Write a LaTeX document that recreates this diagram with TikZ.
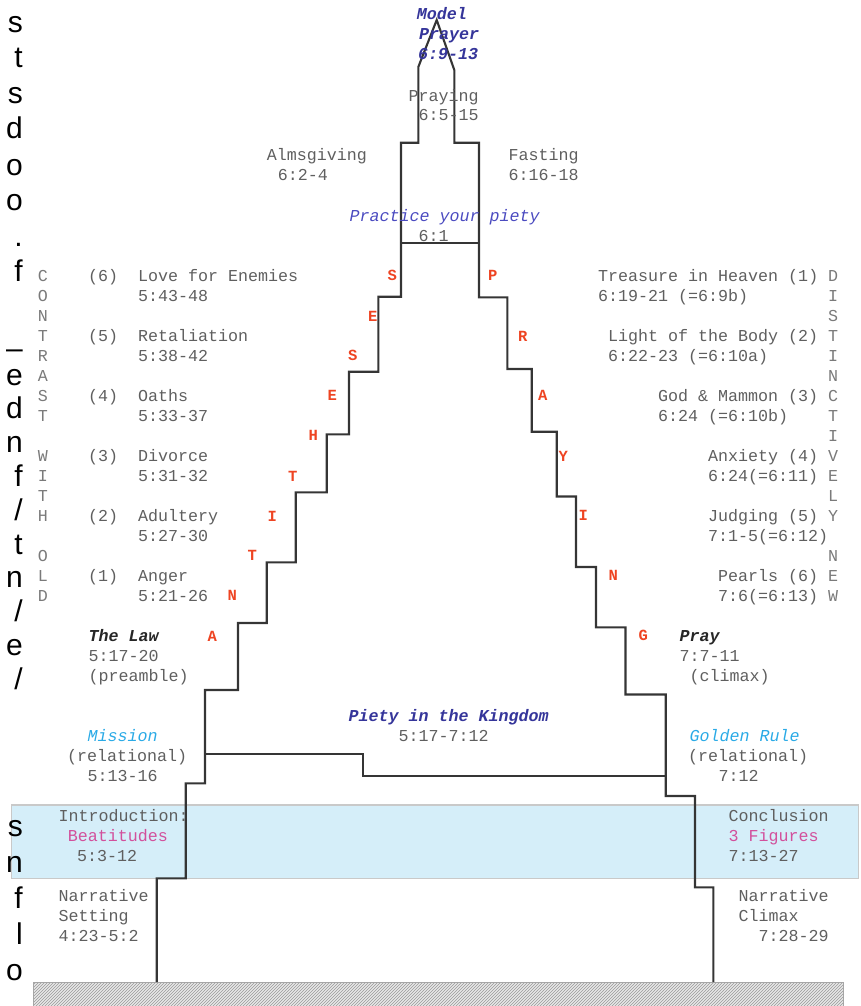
\documentclass[tikz,border=0pt]{standalone}
\usepackage{fontspec}
\setmainfont{Liberation Sans}
\setmonofont{Liberation Mono}
\usetikzlibrary{patterns}
\definecolor{txtgray}{HTML}{5F5F5F}
\definecolor{colgray}{HTML}{7A7A7A}
\definecolor{redc}{HTML}{EE4422}
\definecolor{dblue}{HTML}{35359A}
\definecolor{mblue}{HTML}{4B4BC0}
\definecolor{lblue}{HTML}{2AAAE6}
\definecolor{pinkc}{HTML}{D2509C}
\definecolor{bandfill}{HTML}{D5EEF9}
\definecolor{bandline}{HTML}{C9C9C9}
\definecolor{outl}{HTML}{353535}
\newcommand\tmono{\ttfamily\fontsize{16.67}{20}\selectfont}
\tikzset{
  txt/.style={font=\tmono, text=txtgray, inner sep=0pt, anchor=base west},
  bi/.style={txt, font=\tmono\bfseries\itshape},
  it/.style={txt, font=\tmono\itshape},
  colletter/.style={font=\tmono, text=colgray, inner sep=0pt, anchor=center},
  redletter/.style={font=\ttfamily\fontsize{15.5}{18}\selectfont\bfseries, text=redc, inner sep=0pt, anchor=center},
  frag/.style={font=\fontsize{30}{36}\selectfont, text=black, inner sep=0pt, anchor=base east},
  outline/.style={draw=outl, line width=2.1pt, line join=miter},
}
\begin{document}
\begin{tikzpicture}[x=1pt,y=-1pt]
\useasboundingbox (0,0) rectangle (861,1006);
% band
\fill[bandfill, draw=bandline, line width=1.5pt] (11.7,805) rectangle (858.3,878.3);
% hatched base
\fill[gray!18] (33.3,982) rectangle (843.3,1012);
\fill[pattern=north east lines, pattern color=gray!80] (33.3,982) rectangle (843.3,1012);
\draw[gray!70, line width=1pt] (33.3,1012) -- (33.3,982) -- (843.3,982) -- (843.3,1012);
% outline
\draw[outline] (156.7,982) -- (156.7,878.3) -- (185.7,878.3) -- (185.7,783.3) -- (205,783.3) -- (205,690)
 -- (238,690) -- (238,623) -- (266.7,623) -- (266.7,562.3) -- (295.7,562.3) -- (295.7,492.3)
 -- (326.7,492.3) -- (326.7,434.3) -- (349,434.3) -- (349,371.7) -- (378.3,371.7) -- (378.3,296.7)
 -- (401,296.7) -- (401,142.7) -- (418.3,142.7) -- (418.3,67) -- (436.7,20) -- (454.3,70)
 -- (454.3,142.7) -- (479,142.7) -- (479,297.3) -- (507.3,297.3) -- (507.3,369) -- (531.7,369)
 -- (531.7,431.7) -- (556.7,431.7) -- (556.7,496.5) -- (576,496.5) -- (576,567) -- (596,567)
 -- (596,627.3) -- (625.5,627.3) -- (625.5,694.5) -- (665.7,694.5) -- (665.7,796) -- (695,796)
 -- (695,887.3) -- (713.3,887.3) -- (713.3,982);
\draw[outline] (401,243.3) -- (479,243.3);
\draw[outline] (205,754) -- (363.3,754) -- (363.3,776) -- (665.7,776);
% top texts
\node[bi, text=dblue] (mp1) at (416.7,20) {Model};
\node[bi, text=dblue] (mp2) at (419,40) {Prayer};
\node[bi, text=dblue] (mp3) at (418,60) {6:9-13};
\node[txt] (pray1) at (408.3,101.7) {Praying};
\node[txt] (pray2) at (418.3,121) {6:5-15};
\node[txt] (alms1) at (266.7,160) {Almsgiving};
\node[txt] (alms2) at (277.7,180.7) {6:2-4};
\node[txt] (fast1) at (508.3,160.7) {Fasting};
\node[txt] (fast2) at (508.3,180.7) {6:16-18};
\node[it, text=mblue] (piety1) at (349.3,221.7) {Practice your piety};
\node[txt] (piety2) at (418.3,241) {6:1};
% column letters
\foreach \r/\l in {0/C,1/O,2/N,3/T,4/R,5/A,6/S,7/T,9/W,10/I,11/T,12/H,14/O,15/L,16/D}
  \node[colletter] (lc\r) at (43,{276+20*\r}) {\l};
\foreach \r/\l in {0/D,1/I,2/S,3/T,4/I,5/N,6/C,7/T,8/I,9/V,10/E,11/L,12/Y,14/N,15/E,16/W}
  \node[colletter] (rc\r) at (833,{276+20*\r}) {\l};
% left entries
\node[txt] (n6) at (88,281) {(6)};
\node[txt] (e6) at (138,281) {Love for Enemies};
\node[txt] (v6) at (138,301) {5:43-48};
\node[txt] (n5) at (88,341) {(5)};
\node[txt] (e5) at (138,341) {Retaliation};
\node[txt] (v5) at (138,361) {5:38-42};
\node[txt] (n4) at (88,401) {(4)};
\node[txt] (e4) at (138,401) {Oaths};
\node[txt] (v4) at (138,421) {5:33-37};
\node[txt] (n3) at (88,461) {(3)};
\node[txt] (e3) at (138,461) {Divorce};
\node[txt] (v3) at (138,481) {5:31-32};
\node[txt] (n2) at (88,521) {(2)};
\node[txt] (e2) at (138,521) {Adultery};
\node[txt] (v2) at (138,541) {5:27-30};
\node[txt] (n1) at (88,581) {(1)};
\node[txt] (e1) at (138,581) {Anger};
\node[txt] (v1) at (138,601) {5:21-26};
% right entries
\node[txt] (d1) at (598,281) {Treasure in Heaven (1)};
\node[txt] (w1) at (598,301) {6:19-21 (=6:9b)};
\node[txt] (d2) at (608,341) {Light of the Body (2)};
\node[txt] (w2) at (608,361) {6:22-23 (=6:10a)};
\node[txt] (d3) at (658,401) {God \& Mammon (3)};
\node[txt] (w3) at (658,421) {6:24 (=6:10b)};
\node[txt] (d4) at (708,461) {Anxiety (4)};
\node[txt] (w4) at (708,481) {6:24(=6:11)};
\node[txt] (d5) at (708,521) {Judging (5)};
\node[txt] (w5) at (708,541) {7:1-5(=6:12)};
\node[txt] (d6) at (718,581) {Pearls (6)};
\node[txt] (w6) at (718,601) {7:6(=6:13)};
% red letters
\foreach \n/\x/\y/\l in {1/392.3/275/S,2/372.7/316/E,3/352.7/355.7/S,4/332.3/395/E,5/313.3/435.7/H,
  6/292.7/476/T,7/272.3/516/I,8/252.3/555/T,9/232.3/595.7/N,10/212.3/636/A}
  \node[redletter] (rl\n) at (\x,\y) {\l};
\foreach \n/\x/\y/\l in {1/492.7/275/P,2/522.7/336/R,3/542.7/395.7/A,4/563.3/456/Y,5/583.3/515.7/I,
  6/613.3/575.7/N,7/643.3/635/G}
  \node[redletter] (rr\n) at (\x,\y) {\l};
% lower texts
\node[bi, text=black!85] (law1) at (88.3,641) {The Law};
\node[txt] (law2) at (88.3,661.7) {5:17-20};
\node[txt] (law3) at (88.3,681.7) {(preamble)};
\node[bi, text=black!85] (pr1) at (679.3,641) {Pray};
\node[txt] (pr2) at (679.3,661.7) {7:7-11};
\node[txt] (pr3) at (689.3,681.7) {(climax)};
\node[it, text=lblue] (mis1) at (87.3,741.7) {Mission};
\node[txt] (mis2) at (67,761.7) {(relational)};
\node[txt] (mis3) at (87.3,781) {5:13-16};
\node[bi, text=dblue] (pk1) at (348.3,721.7) {Piety in the Kingdom};
\node[txt] (pk2) at (398.3,741.7) {5:17-7:12};
\node[it, text=lblue] (gr1) at (689.3,741.7) {Golden Rule};
\node[txt] (gr2) at (688,761.7) {(relational)};
\node[txt] (gr3) at (718.3,781) {7:12};
\node[txt] (in1) at (58.3,821) {Introduction:};
\node[txt, text=pinkc] (in2) at (67.7,841.7) {Beatitudes};
\node[txt] (in3) at (77,861.7) {5:3-12};
\node[txt] (ns1) at (58.3,901) {Narrative};
\node[txt] (ns2) at (58.3,921.7) {Setting};
\node[txt] (ns3) at (58.3,941.7) {4:23-5:2};
\node[txt] (co1) at (728.3,821) {Conclusion};
\node[txt, text=pinkc] (co2) at (728.3,841.7) {3 Figures};
\node[txt] (co3) at (728.3,861.7) {7:13-27};
\node[txt] (nc1) at (738.3,901) {Narrative};
\node[txt] (nc2) at (738.3,921.7) {Climax};
\node[txt] (nc3) at (758.3,941.7) {7:28-29};
% left-edge fragments of neighbouring text
\foreach \n/\y/\l in {1/33/s,2/68/t,3/104/s,4/139/d,5/175/o,6/210/o,7/246/.,8/281/f,
  9/358/–,10/385/e,11/418.8/d,12/452.6/n,13/486.4/f,15/554/t,16/587.8/n,18/655.4/e,
  20/836/s,21/872/n,22/908/f,23/944/l,24/980/o}
  \node[frag] (fr\n) at (23,\y) {\l};
\node[frag] (fr14) at (23,520.2) {/};
\node[frag] (fr17) at (23,621.6) {/};
\node[frag] (fr19) at (23,689.2) {/};
\end{tikzpicture}
\end{document}
